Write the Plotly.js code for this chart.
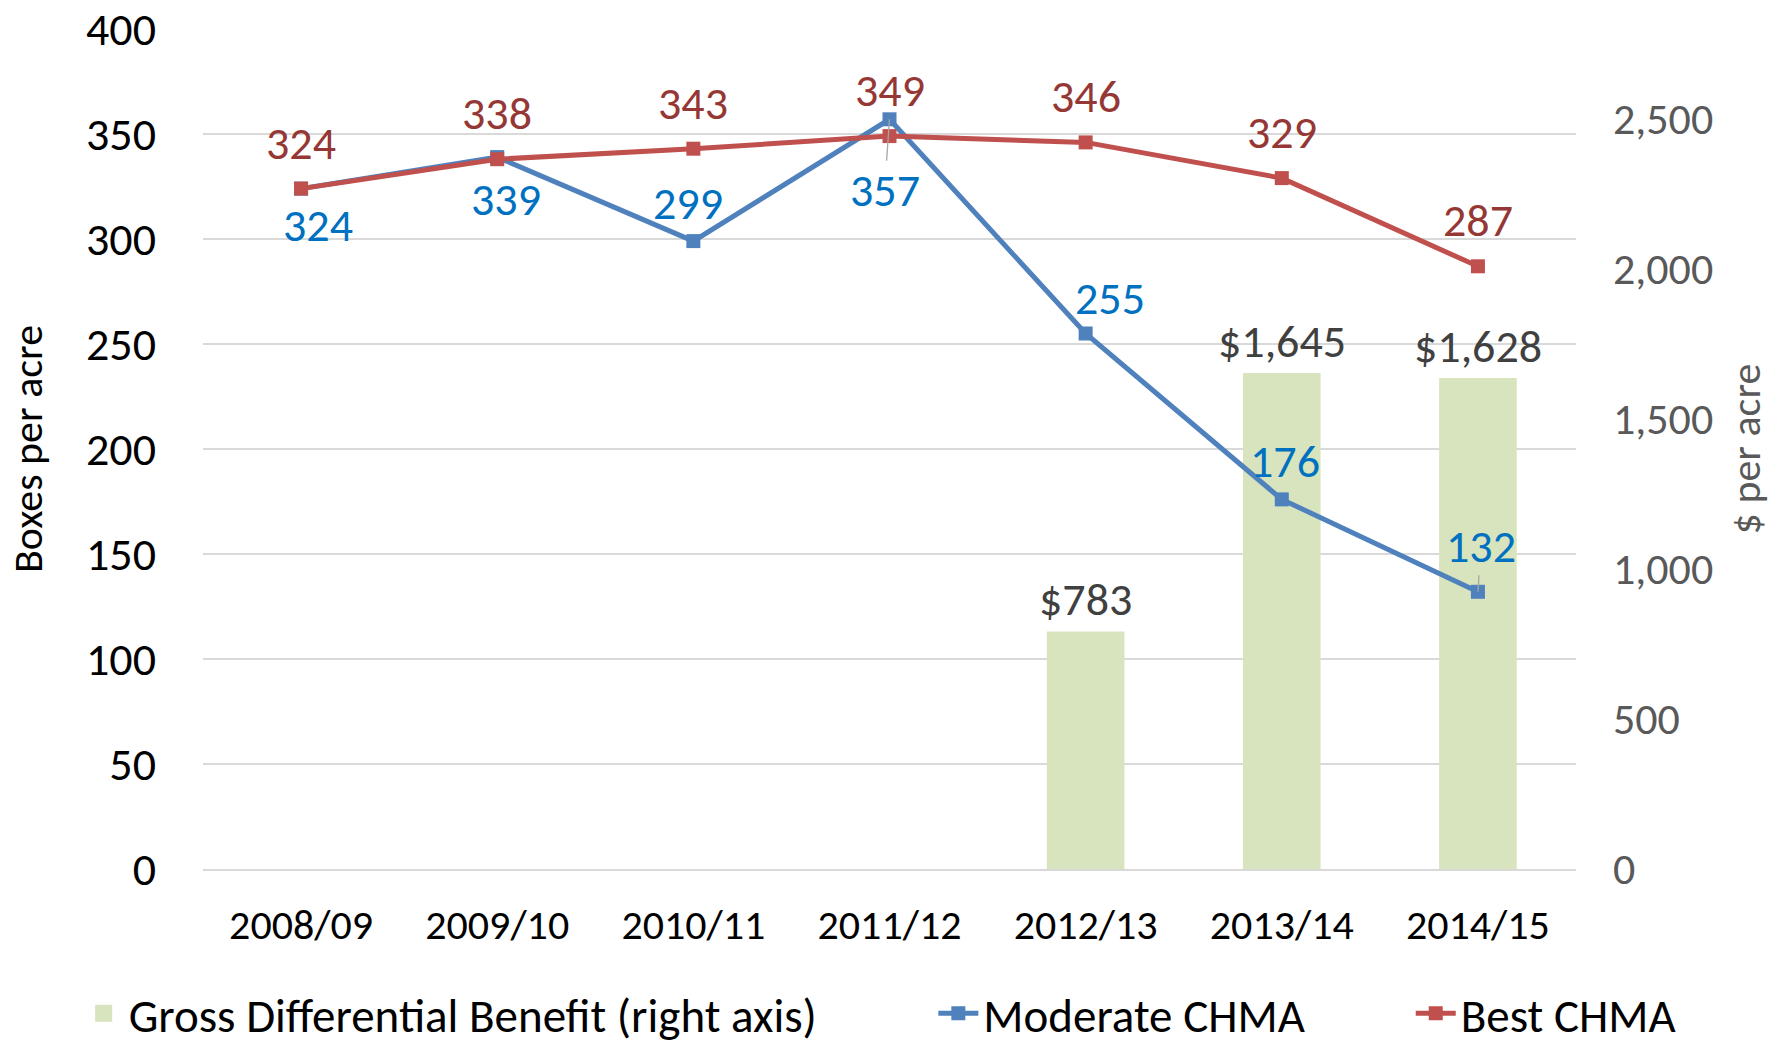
<!DOCTYPE html>
<html><head><meta charset="utf-8">
<script src="https://cdn.plot.ly/plotly-3.0.1.min.js"></script>
<style>html,body{margin:0;padding:0;background:#fff}#chart{width:1788px;height:1045px}</style>
</head><body><div id="chart"></div>
<script>
// ---- data ----
const seasons = ['2008/09','2009/10','2010/11','2011/12','2012/13','2013/14','2014/15'];
const moderateCHMA = [324, 339, 299, 357, 255, 176, 132];
const bestCHMA = [324, 338, 343, 349, 346, 329, 287];
const grossBenefit = [null, null, null, null, 783, 1645, 1628];
const leftTicks = [0, 50, 100, 150, 200, 250, 300, 350, 400];
const rightTicks = [0, 500, 1000, 1500, 2000, 2500];
const seriesNames = ['Gross Differential Benefit (right axis)', 'Moderate CHMA', 'Best CHMA'];

// ---- label placement (style only) ----
const modShiftX = [17, 9, -5, -5, 24, 3, 3];
const modShiftY = [-36, -42, 38, -71, 36, 38, 46];
const modLeader = [false, false, false, true, false, false, true];
const bestShiftY = 46;
const barShiftY = 35;
const legendX = [0.044, 0.522, 0.789];

const FONT = 'Carlito, Calibri, Lato, sans-serif';
const BLUE = '#4F81BD', RED = '#C0504D', GREEN = '#D7E4BD';
const BLUE_TXT = '#0070C0', RED_TXT = '#953735', GRAY_TXT = '#404040';

const traces = [
  {type: 'bar', name: seriesNames[0], x: seasons, y: grossBenefit, legend: 'legend',
   yaxis: 'y', marker: {color: GREEN, line: {color: GREEN, width: 5}}, hoverinfo: 'skip'},
  {type: 'scatter', mode: 'lines+markers', name: seriesNames[1], x: seasons, y: moderateCHMA, legend: 'legend2',
   yaxis: 'y2', line: {color: BLUE, width: 5}, marker: {symbol: 'square', size: 14, color: BLUE}},
  {type: 'scatter', mode: 'lines+markers', name: seriesNames[2], x: seasons, y: bestCHMA, legend: 'legend3',
   yaxis: 'y2', line: {color: RED, width: 5}, marker: {symbol: 'square', size: 14, color: RED}}
];

const annotations = [];
seasons.forEach((s, i) => {
  annotations.push({x: s, y: bestCHMA[i], xref: 'x', yref: 'y2', text: String(bestCHMA[i]),
    showarrow: false, yshift: bestShiftY, font: {family: FONT, size: 46, color: RED_TXT}});
  if (modLeader[i]) {
    annotations.push({x: s, y: moderateCHMA[i], xref: 'x', yref: 'y2', text: String(moderateCHMA[i]),
      showarrow: true, ax: modShiftX[i], ay: -modShiftY[i], arrowhead: 0, arrowwidth: 1.3,
      arrowcolor: '#A6A6A6', standoff: 0, font: {family: FONT, size: 46, color: BLUE_TXT}});
  } else {
    annotations.push({x: s, y: moderateCHMA[i], xref: 'x', yref: 'y2', text: String(moderateCHMA[i]),
      showarrow: false, xshift: modShiftX[i], yshift: modShiftY[i], font: {family: FONT, size: 46, color: BLUE_TXT}});
  }
  if (grossBenefit[i] != null) {
    annotations.push({x: s, y: grossBenefit[i], xref: 'x', yref: 'y', text: '$' + grossBenefit[i].toLocaleString('en-US'),
      showarrow: false, yshift: barShiftY, font: {family: FONT, size: 46, color: GRAY_TXT}});
  }
});

function legendAt(x) {
  return {orientation: 'h', xref: 'container', yref: 'container', x: x, xanchor: 'left',
    y: 0.03, yanchor: 'middle', font: {family: FONT, size: 47, color: '#000'},
    itemwidth: 40, bgcolor: 'rgba(0,0,0,0)'};
}

const layout = {
  width: 1788, height: 1045,
  margin: {l: 203, r: 212, t: 29, b: 176, autoexpand: false},
  paper_bgcolor: '#fff', plot_bgcolor: '#fff',
  font: {family: FONT, color: '#000'},
  bargap: 0.63,
  showlegend: true,
  legend: legendAt(legendX[0]),
  legend2: legendAt(legendX[1]),
  legend3: legendAt(legendX[2]),
  xaxis: {type: 'category', showgrid: false, showline: true, linecolor: '#D9D9D9', linewidth: 1.5,
    ticks: '', tickfont: {family: FONT, size: 42, color: '#000'}, ticklabelstandoff: 18},
  yaxis: {side: 'right', range: [0, 2800], tickvals: rightTicks, tickformat: ',', showgrid: false, zeroline: false,
    tickfont: {family: FONT, size: 44, color: '#595959'}, ticklabelstandoff: 36, ticklabeloverflow: 'allow',
    title: {text: '$ per acre', font: {family: FONT, size: 42, color: '#595959'}, standoff: 18}},
  yaxis2: {side: 'left', overlaying: 'y', range: [0, 400], tickvals: leftTicks, showgrid: true,
    gridcolor: '#D9D9D9', gridwidth: 1.5, zeroline: false,
    tickfont: {family: FONT, size: 46, color: '#000'}, ticklabelstandoff: 46, ticklabeloverflow: 'allow',
    title: {text: 'Boxes per acre', font: {family: FONT, size: 42, color: '#000'}, standoff: 30}},
  annotations: annotations
};

Plotly.newPlot('chart', traces, layout, {displayModeBar: false, staticPlot: true});
</script></body></html>
